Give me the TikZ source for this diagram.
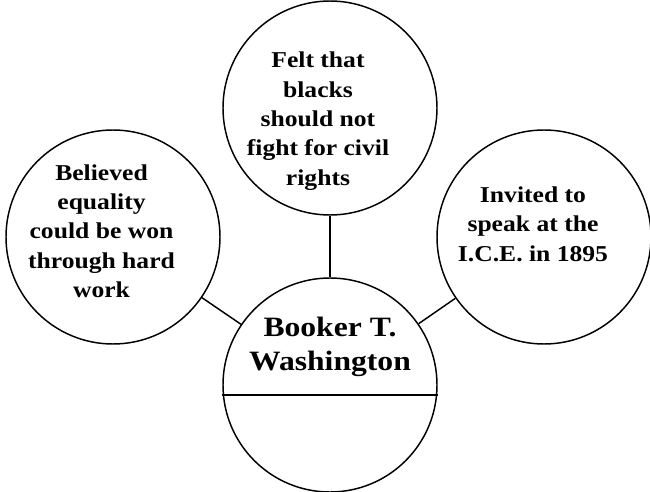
\documentclass[tikz,border=0pt]{standalone}
\usepackage{fontspec}
\setmainfont{Liberation Serif}[FakeStretch=1.13]
\usepackage{tikz}

\begin{document}
\begin{tikzpicture}[x=0.75pt,y=0.75pt,yscale=-1,xscale=1,
    bubble/.style={draw,circle,line width=1.1pt,minimum size=160.5pt,inner sep=0pt},
    wire/.style={line width=1.1pt},
    txt/.style={inner sep=0pt,align=center,font=\bfseries\fontsize{17}{22}\selectfont},
    bigtxt/.style={inner sep=0pt,align=center,font=\bfseries\fontsize{21}{25}\selectfont}]
    \path[use as bounding box] (0,0) rectangle (650,492); %diagram is 650 by 492

    %Shape: Circle [top]
    \node[bubble] (felt) at (330,108) {};
    %Shape: Circle [left]
    \node[bubble] (believed) at (113,237) {};
    %Shape: Circle [right]
    \node[bubble] (invited) at (544,237) {};
    %Shape: Circle [middle]
    \node[bubble] (booker) at (330,385) {};
    %Straight Lines [split]
    \draw[wire] ([yshift=7.5pt]booker.west) -- ([yshift=7.5pt]booker.east);
    %Straight Lines
    \draw[wire] (felt) -- (booker);
    %Straight Lines
    \draw[wire] (believed) -- (booker);
    %Straight Lines
    \draw[wire] (invited) -- (booker);

    % Text Node
    \node[txt] (feltText) at (318,121) {Felt that\\blacks\\should not\\fight for civil\\rights};
    % Text Node
    \node[txt] (believedText) at (101.5,231) {Believed\\equality\\could be won\\through hard\\work};
    % Text Node
    \node[txt] (invitedText) at (533,224) {Invited to\\speak at the\\I.C.E. in 1895};
    % Text Node
    \node[bigtxt] (bookerText) at (330,347) {Booker T.\\Washington};

\end{tikzpicture}
\end{document}
